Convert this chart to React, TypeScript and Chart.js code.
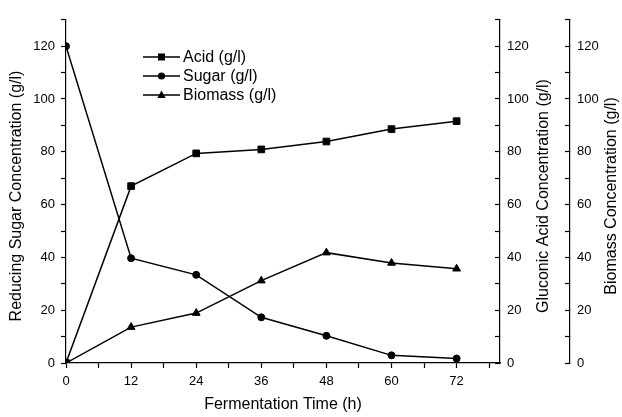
import React, { useEffect, useRef } from 'react';
import { Chart, registerables } from 'chart.js';

Chart.register(...registerables);

const hours = [0, 12, 24, 36, 48, 60, 72];
const acid = [0, 67.0, 79.4, 80.9, 83.9, 88.6, 91.6];
const sugar = [120, 39.7, 33.4, 17.3, 10.3, 2.9, 1.7];
const biomass = [0, 13.6, 18.9, 31.2, 41.8, 37.9, 35.7];

const seriesNames = ['Acid (g/l)', 'Sugar (g/l)', 'Biomass (g/l)'];
const xTitle = 'Fermentation Time (h)';
const ySugarTitle = 'Reducing Sugar Concentration (g/l)';
const yAcidTitle = 'Gluconic Acid Concentration (g/l)';
const yBioTitle = 'Biomass Concentration (g/l)';

const xTickValues = [0, 6, 12, 18, 24, 30, 36, 42, 48, 54, 60, 66, 72, 78];
const yTickValues = [0, 10, 20, 30, 40, 50, 60, 70, 80, 90, 100, 110, 120, 130];

const FONT = '"Liberation Sans", Arial, Helvetica, sans-serif';
const INK = '#000';

const markerStyles = ['rect', 'circle', 'triangle'];

function drawMarker(ctx: CanvasRenderingContext2D, style: string, x: number, y: number) {
  ctx.beginPath();
  if (style === 'rect') {
    ctx.rect(x - 3.5, y - 3.5, 7, 7);
  } else if (style === 'circle') {
    ctx.arc(x, y, 3.6, 0, Math.PI * 2);
  } else {
    ctx.moveTo(x, y - 4.5);
    ctx.lineTo(x + 4.2, y + 3);
    ctx.lineTo(x - 4.2, y + 3);
    ctx.closePath();
  }
  ctx.fill();
}

const overlayPlugin = {
  id: 'overlay',
  afterDraw(chart: any) {
    const ctx: CanvasRenderingContext2D = chart.ctx;
    ctx.save();
    // legend
    ctx.fillStyle = INK;
    ctx.strokeStyle = INK;
    ctx.lineWidth = 1.5;
    ctx.font = `16px ${FONT}`;
    ctx.textBaseline = 'middle';
    ctx.textAlign = 'left';
    seriesNames.forEach((name, i) => {
      const y = 57 + i * 19;
      ctx.beginPath();
      ctx.moveTo(143, y);
      ctx.lineTo(180, y);
      ctx.stroke();
      drawMarker(ctx, markerStyles[i], 161.5, y);
      ctx.fillText(name, 183, y + 1);
    });
    // y titles (rotated, reading upward)
    const titles: [string, number][] = [
      [ySugarTitle, 17],
      [yAcidTitle, 544],
      [yBioTitle, 612],
    ];
    const cy = 196;
    ctx.textAlign = 'center';
    titles.forEach(([t, x]) => {
      ctx.save();
      ctx.translate(x, cy);
      ctx.rotate(-Math.PI / 2);
      ctx.fillText(t, 0, 0);
      ctx.restore();
    });
    ctx.restore();
  },
};

function yAxisLabel(v: number) {
  return v % 20 === 0 && v <= 120 ? String(v) : '';
}

function setYTicks(scale: any) {
  scale.ticks = yTickValues.map((v) => ({ value: v }));
}

export default function App() {
  const ref = useRef<HTMLCanvasElement>(null);

  useEffect(() => {
    if (!ref.current) return;
    const tickFont = { family: FONT, size: 13 };
    const common = {
      type: 'linear',
      min: 0,
      max: 130,
      afterBuildTicks: setYTicks,
      border: { display: true, color: INK, width: 1.2 },
    };
    const chart = new Chart(ref.current, {
      type: 'line',
      data: {
        datasets: [
          {
            label: seriesNames[0],
            data: hours.map((h, i) => ({ x: h, y: acid[i] })),
            yAxisID: 'yAcid',
            borderColor: INK,
            backgroundColor: INK,
            borderWidth: 1.5,
            pointStyle: 'rect',
            pointRadius: 4.7,
            pointBorderWidth: 1,
            pointBackgroundColor: INK,
            pointBorderColor: INK,
          },
          {
            label: seriesNames[1],
            data: hours.map((h, i) => ({ x: h, y: sugar[i] })),
            yAxisID: 'y',
            borderColor: INK,
            backgroundColor: INK,
            borderWidth: 1.5,
            pointStyle: 'circle',
            pointRadius: 3.5,
            pointBorderWidth: 1,
            pointBackgroundColor: INK,
            pointBorderColor: INK,
          },
          {
            label: seriesNames[2],
            data: hours.map((h, i) => ({ x: h, y: biomass[i] })),
            yAxisID: 'yBio',
            borderColor: INK,
            backgroundColor: INK,
            borderWidth: 1.5,
            pointStyle: 'triangle',
            pointRadius: 4.5,
            pointBorderWidth: 1,
            pointBackgroundColor: INK,
            pointBorderColor: INK,
          },
        ],
      },
      options: {
        responsive: false,
        animation: false,
        layout: { padding: { top: 10, left: 0, right: 0, bottom: 0 } },
        plugins: {
          legend: { display: false },
          tooltip: { enabled: false },
        },
        scales: {
          x: {
            type: 'linear',
            min: 0,
            max: 80,
            afterBuildTicks: (s: any) => {
              s.ticks = xTickValues.map((v) => ({ value: v }));
            },
            afterFit: (s: any) => {
              s.height = 54;
            },
            ticks: {
              autoSkip: false,
              maxRotation: 0,
              color: INK,
              font: tickFont,
              padding: 6,
              callback: (v: any) => (v % 12 === 0 && v <= 72 ? String(v) : ''),
            },
            grid: { drawOnChartArea: false, drawTicks: true, tickLength: 5, tickColor: INK, tickWidth: 1.2 },
            border: { display: true, color: INK, width: 1.2 },
            title: {
              display: true,
              text: xTitle,
              color: INK,
              font: { family: FONT, size: 16, lineHeight: 1.2 },
              padding: { top: 0, bottom: 2.5 },
            },
          },
          y: {
            ...common,
            position: 'left',
            afterFit: (s: any) => {
              s.width = 66;
            },
            ticks: { autoSkip: false, color: INK, font: tickFont, padding: 6, callback: yAxisLabel },
            grid: { drawOnChartArea: false, drawTicks: true, tickLength: 5, tickColor: INK, tickWidth: 1.2 },
          },
          yAcid: {
            ...common,
            position: 'right',
            weight: 0,
            afterFit: (s: any) => {
              s.width = 70;
            },
            ticks: { autoSkip: false, color: INK, font: tickFont, padding: 12, callback: yAxisLabel },
            grid: { drawOnChartArea: false, drawTicks: true, tickLength: -5, tickColor: INK, tickWidth: 1.2 },
          },
          yBio: {
            ...common,
            position: 'right',
            weight: 1,
            afterFit: (s: any) => {
              s.width = 52;
            },
            ticks: { autoSkip: false, color: INK, font: tickFont, padding: 12, callback: yAxisLabel },
            grid: { drawOnChartArea: false, drawTicks: true, tickLength: -5, tickColor: INK, tickWidth: 1.2 },
          },
        },
      } as any,
      plugins: [overlayPlugin],
    } as any);
    return () => chart.destroy();
  }, []);

  return (
    <div style={{ position: 'fixed', left: 0, top: 0, width: 622, height: 417, background: '#fff' }}>
      <canvas ref={ref} width={622} height={417} style={{ display: 'block' }} />
    </div>
  );
}
